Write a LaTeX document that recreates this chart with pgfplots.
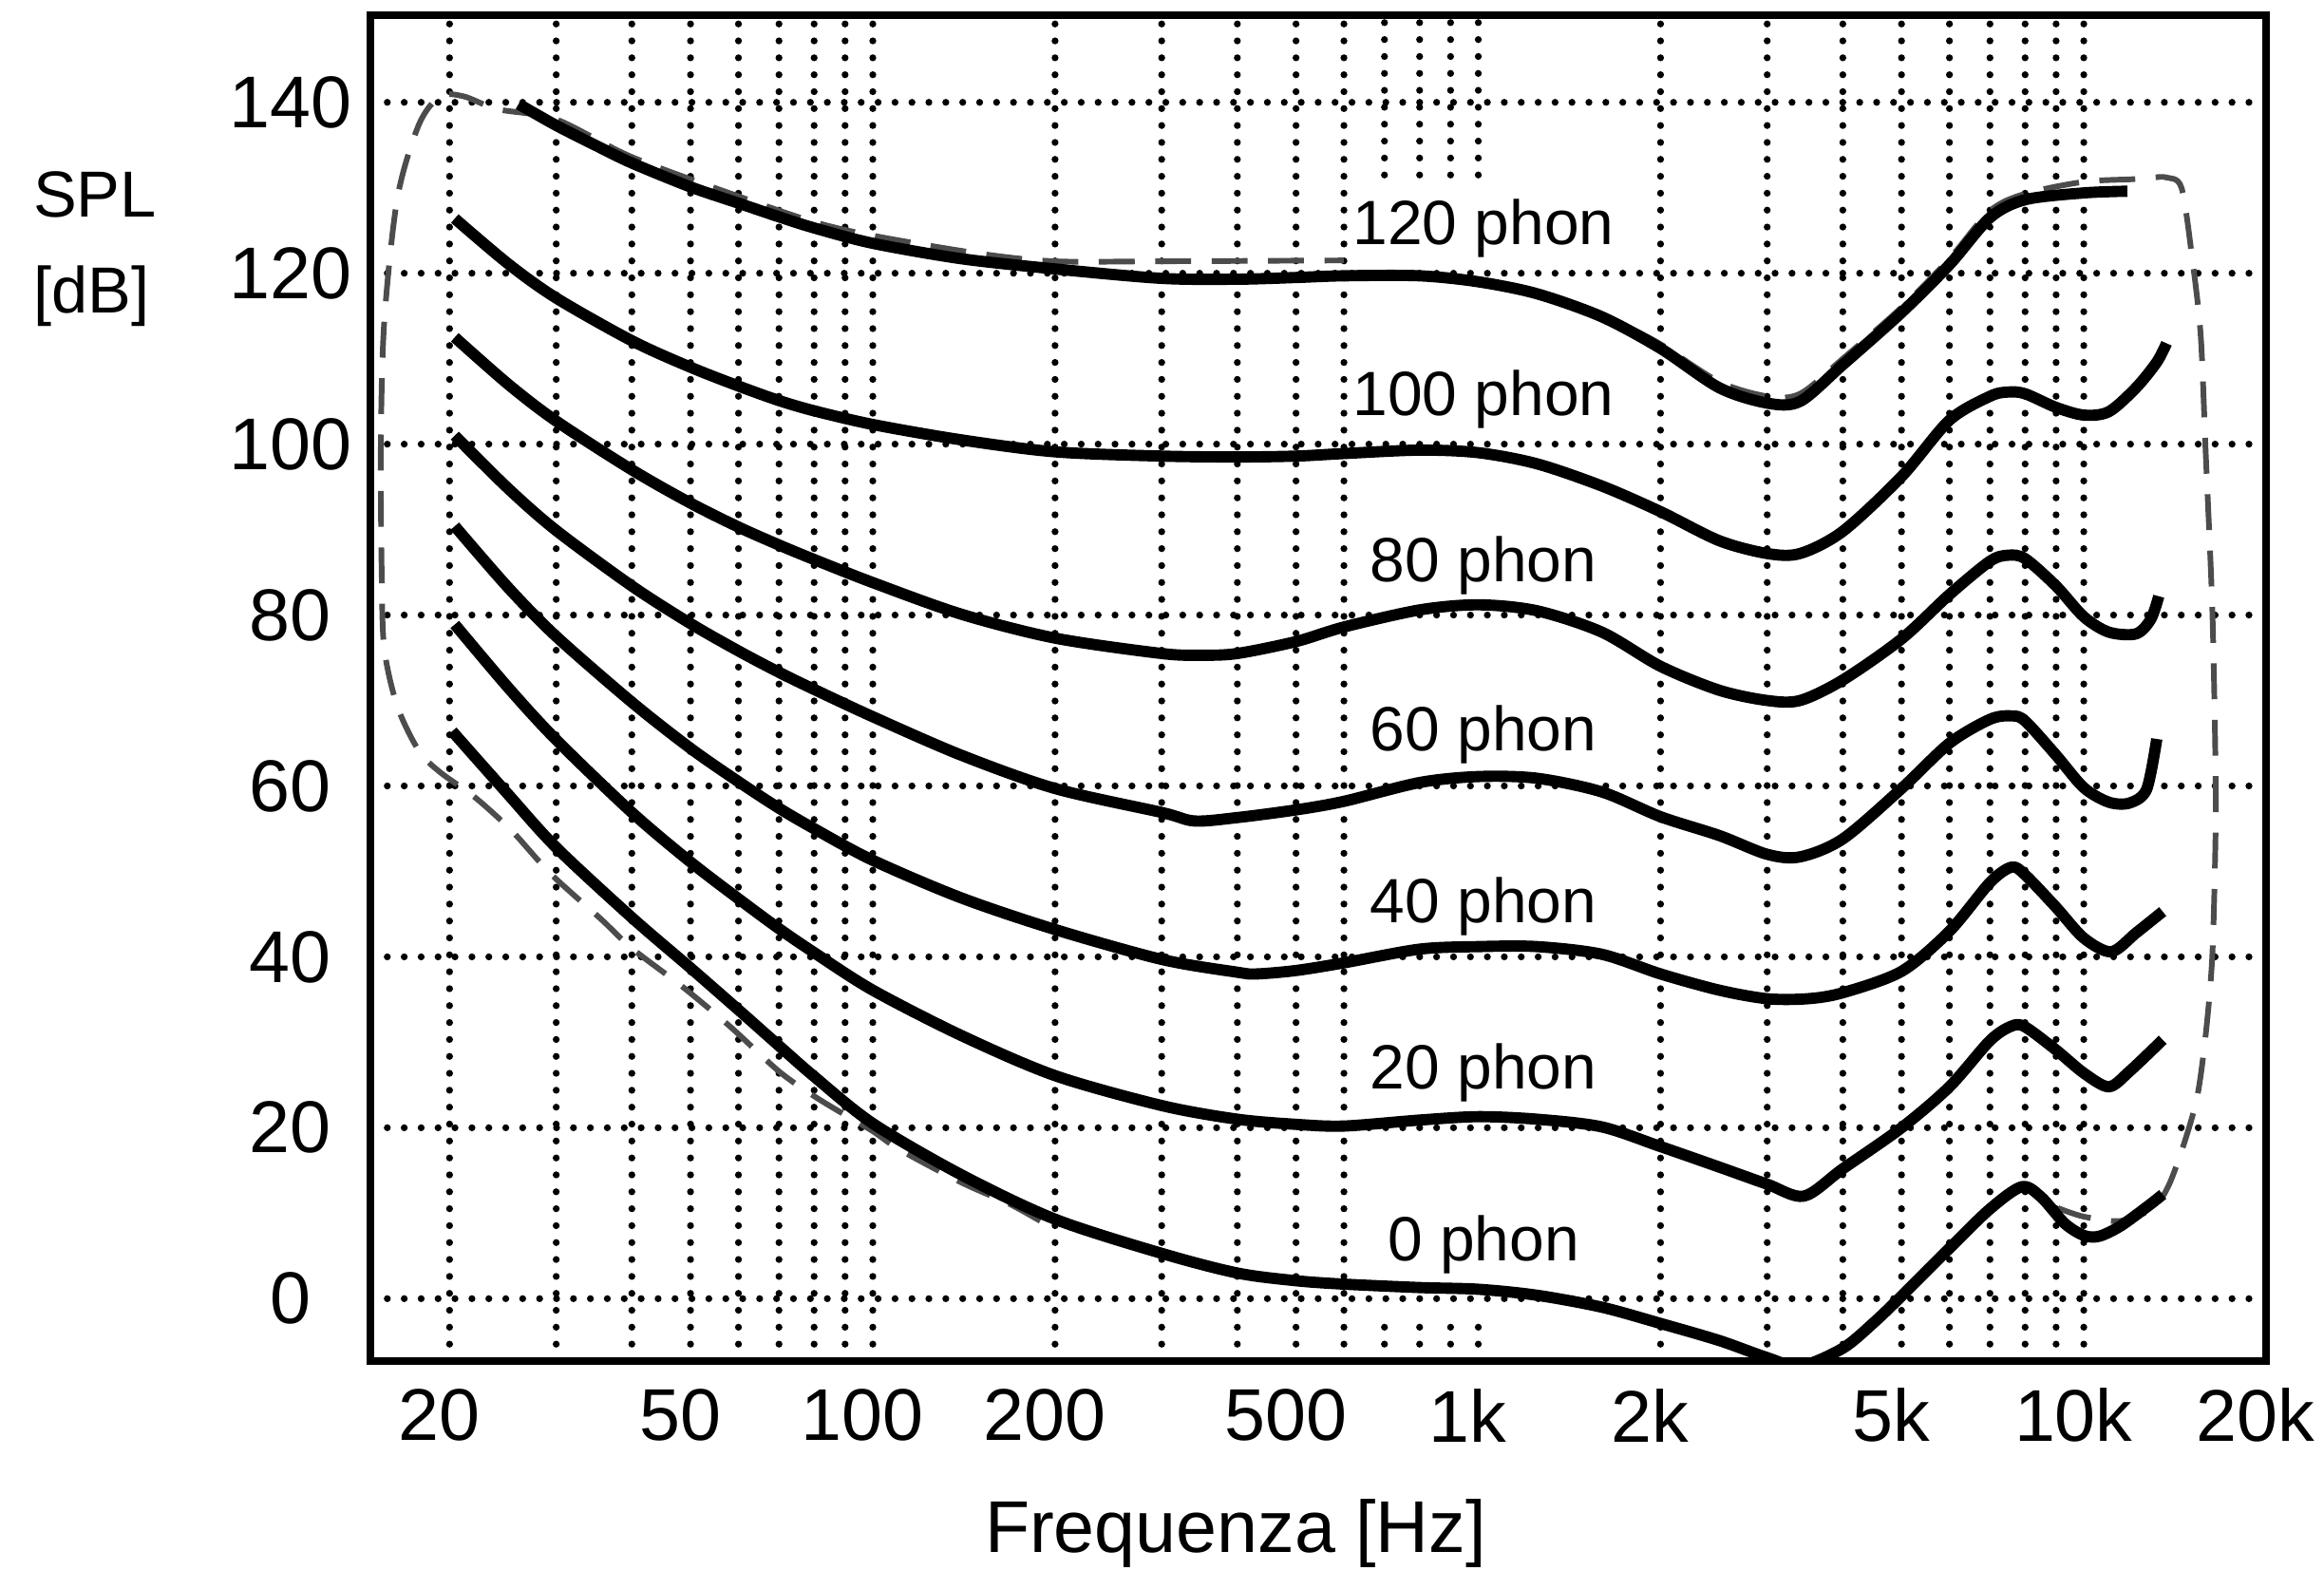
\documentclass[border=0pt]{standalone}
\usepackage{fontspec}
\setmainfont{Liberation Sans}
\usepackage{pgfplots}
\pgfplotsset{compat=1.18}
\tikzset{gridl/.style={line width=1.35pt, dash pattern=on 0pt off 3.3pt, line cap=round, black}}
\tikzset{curve/.style={black, line width=2.2pt, smooth, tension=0.5, line join=round}}
\tikzset{env/.style={black!70, line width=1.1pt, dash pattern=on 7pt off 4pt, smooth}}
\begin{document}
\begin{tikzpicture}
\path[use as bounding box] (-72.22pt,-40.74pt) rectangle (380.93pt,265.37pt);
\begin{axis}[
  at={(0,0)}, anchor=south west,
  scale only axis, width=369.63pt, height=262.41pt,
  xmode=log, xmin=14.8, xmax=20000, ymin=-7.3, ymax=150.2,
  xtick={20,50,100,200,500,1000,2000,5000,10000,20000},
  xticklabels={20,50,100,200,500,1k,2k,5k,10k,20k},
  ytick={0,20,40,60,80,100,120,140},
  yticklabels={0,20,40,60,80,100,120,140},
  major tick length=0pt, minor tick length=0pt,
  xminorticks=false,
  ymajorgrids, grid style={gridl},
  axis line style={line width=1.6pt},
  tick label style={font=\fontsize{14.3}{17}\selectfont},
  xticklabel style={anchor=center, yshift=-10.6pt, xshift=-2pt},
  yticklabel style={anchor=center, xshift=-15.6pt},
  /pgf/number format/assume math mode=true,
]
% vertical dotted grid
\pgfplotsinvokeforeach{20,30,40,50,60,70,80,90,100,200,300,400,500,600,2000,3000,4000,5000,6000,7000,8000,9000,10000}{
  \draw[gridl] (axis cs:#1,-7.3) -- (axis cs:#1,150.2);
}
\pgfplotsinvokeforeach{700,800,900,1000}{
  \draw[gridl] (axis cs:#1,-7.3) -- (axis cs:#1,-2);
  \draw[gridl] (axis cs:#1,131.5) -- (axis cs:#1,150.2);
}
% envelope (dashed)
\addplot[env] coordinates {
(189,9.1) (168,11.1) (140,13.6) (111,17.4) (100,19.6) (90,21.5) (80,23.7) (70,26.6) (58,31.9) (48.5,36.5) (40,41.0) (35.6,44.4) (29.4,49.7) (25.3,54.8) (22.0,58.7) (19.3,61.6) (17.8,64.1) (16.4,69.3) (15.6,76.1) (15.45,85) (15.4,100) (15.6,114.3) (16.4,128.8) (17.8,137.4) (19.3,140.7) (21.1,140.7) (24.0,139.2) (30,138.0) (40,133.6) (60,129.0) (80,126.0) (100,124.4) (150,122.3) (200,121.4) (300,121.4) (600,121.5)
};
\addplot[env] coordinates {
(1800,113.4) (2000,111.7) (2500,107.3) (3000,105.6) (3400,105.9) (4000,110.0) (5000,116.0) (6000,121.7) (7000,127.3) (8000,129.3) (10000,130.7) (12000,131.0) (13000,131.2) (13700,131.2) (14500,130.0) (15100,121.8) (15600,112.7) (15900,99) (16300,80.9) (16500,62.7) (16500,53.6) (16300,40) (15900,30.9) (15400,23.7) (14650,18.2) (13800,13.2) (13000,10.6) (11500,9.1) (10000,9.6) (9070,10.6)
};
% 120 phon
\addplot[curve] coordinates {
(26,139.8) (30,137.3) (35,134.9) (40,132.9) (50,130.1) (60,128.2) (70,126.6) (80,125.3) (100,123.5) (140,121.7) (200,120.5) (300,119.4) (400,119.3) (500,119.5) (600,119.7) (800,119.7) (1000,119.0) (1250,117.6) (1600,114.9) (2000,111.2) (2500,106.6) (3000,104.8) (3400,105.0) (4000,109.3) (5000,115.4) (6000,121.0) (7000,126.5) (8000,128.6) (10000,129.4) (11800,129.6)
};
% 100 phon
\addplot[curve] coordinates {
(20.4,126.4) (25,121.1) (30,117.1) (40,112.1) (50,109.0) (60,106.8) (70,105.1) (80,103.9) (100,102.3) (140,100.5) (200,99.1) (300,98.6) (400,98.5) (500,98.6) (600,98.9) (800,99.3) (1000,99.0) (1250,97.7) (1600,95.1) (2000,92.1) (2500,88.7) (3000,87.2) (3400,87.2) (4000,89.8) (5000,96.2) (6000,102.8) (7000,105.6) (7500,106.1) (8000,105.9) (9000,104.3) (10000,103.4) (11000,103.8) (12200,106.6) (13200,109.6) (13700,111.8)
};
% 80 phon
\addplot[curve] coordinates {
(20.4,112.5) (25,107.0) (30,102.7) (40,97.0) (50,93.1) (60,90.3) (70,88.2) (80,86.5) (100,83.8) (140,80.1) (200,77.3) (300,75.5) (350,75.3) (400,75.5) (500,76.9) (600,78.6) (800,80.6) (1000,81.2) (1250,80.5) (1600,78.0) (2000,74.0) (2500,71.2) (3000,70.0) (3400,70.0) (4000,72.4) (5000,77.2) (6000,82.4) (7000,86.3) (7500,87.0) (8000,86.6) (9000,83.4) (10000,79.8) (11000,78.0) (12200,77.8) (12900,79.5) (13300,82.2)
};
% 60 phon
\addplot[curve] coordinates {
(20.4,101.0) (25,94.8) (30,89.9) (40,83.4) (50,79.0) (60,75.8) (70,73.3) (80,71.3) (100,68.1) (140,63.6) (200,59.7) (300,56.9) (340,55.9) (400,56.3) (500,57.2) (600,58.2) (800,60.4) (1000,61.1) (1250,60.9) (1600,59.3) (2000,56.4) (2500,54.2) (3000,52.0) (3400,51.7) (4000,53.8) (5000,59.7) (6000,65.0) (7000,67.8) (7600,68.2) (8000,67.6) (9000,63.6) (10000,59.8) (11000,58.1) (11900,58.0) (12700,59.6) (13200,65.5)
};
% 40 phon
\addplot[curve] coordinates {
(20.4,90.4) (25,83.2) (30,77.5) (40,69.8) (50,64.4) (60,60.5) (70,57.4) (80,55.0) (100,51.3) (140,46.9) (200,43.2) (300,39.7) (400,38.2) (430,38.0) (500,38.4) (600,39.3) (800,40.9) (1000,41.2) (1250,41.2) (1600,40.3) (2000,38.0) (2500,36.1) (3000,35.1) (3500,35.1) (4000,35.8) (5000,38.3) (6000,43.0) (7000,48.7) (7600,50.5) (8000,49.6) (9000,45.8) (10000,42.2) (11100,40.6) (12200,42.8) (13500,45.3)
};
% 20 phon
\addplot[curve] coordinates {
(20.4,78.9) (25,71.5) (30,65.4) (40,56.9) (50,51.1) (60,46.8) (70,43.3) (80,40.5) (100,36.1) (140,30.8) (200,26.1) (300,22.6) (400,21.0) (500,20.4) (600,20.2) (800,20.9) (1000,21.3) (1250,21.0) (1600,20.1) (2000,17.8) (2500,15.4) (3000,13.4) (3450,12.0) (4000,15.2) (5000,20.0) (6000,24.8) (7000,30.2) (7600,31.9) (8000,31.8) (9000,29.1) (10000,26.4) (11000,24.8) (11900,26.6) (13500,30.3)
};
% 0 phon
\addplot[curve] coordinates {
(20.2,66.4) (25,59.0) (30,52.8) (40,44.6) (50,38.7) (60,33.8) (70,29.6) (80,26.0) (100,20.5) (140,14.5) (200,9.3) (300,5.3) (400,3.0) (500,2.1) (600,1.7) (800,1.3) (1000,1.1) (1250,0.4) (1600,-1.0) (2000,-2.9) (2500,-4.9) (3000,-6.9) (3400,-7.9) (4000,-5.8) (4500,-2.8) (5000,0.3) (6000,5.9) (7000,10.5) (7900,13.1) (8500,11.9) (9300,8.8) (10000,7.4) (10600,7.3) (11500,8.5) (12800,10.9) (13500,12.2)
};
% labels
\begin{scope}[every node/.style={anchor=base, font=\fontsize{12.2}{14}\selectfont}]
\node at (axis cs:1020,123.4) {120 phon};
\node at (axis cs:1020,103.4) {100 phon};
\node at (axis cs:1020,83.9) {80 phon};
\node at (axis cs:1020,64.1) {60 phon};
\node at (axis cs:1020,44.0) {40 phon};
\node at (axis cs:1020,24.5) {20 phon};
\node at (axis cs:1020,4.4) {0 phon};
\end{scope}
\end{axis}
\node[anchor=base, font=\fontsize{14.3}{17}\selectfont] at (168.7pt,-37.4pt) {Frequenza [Hz]};
\node[anchor=base west, font=\fontsize{12.7}{15}\selectfont, inner sep=0pt] at (-65.9pt,223.1pt) {SPL};
\node[anchor=base west, font=\fontsize{12.7}{15}\selectfont, inner sep=0pt] at (-65.9pt,204.3pt) {[dB]};
\end{tikzpicture}
\end{document}
